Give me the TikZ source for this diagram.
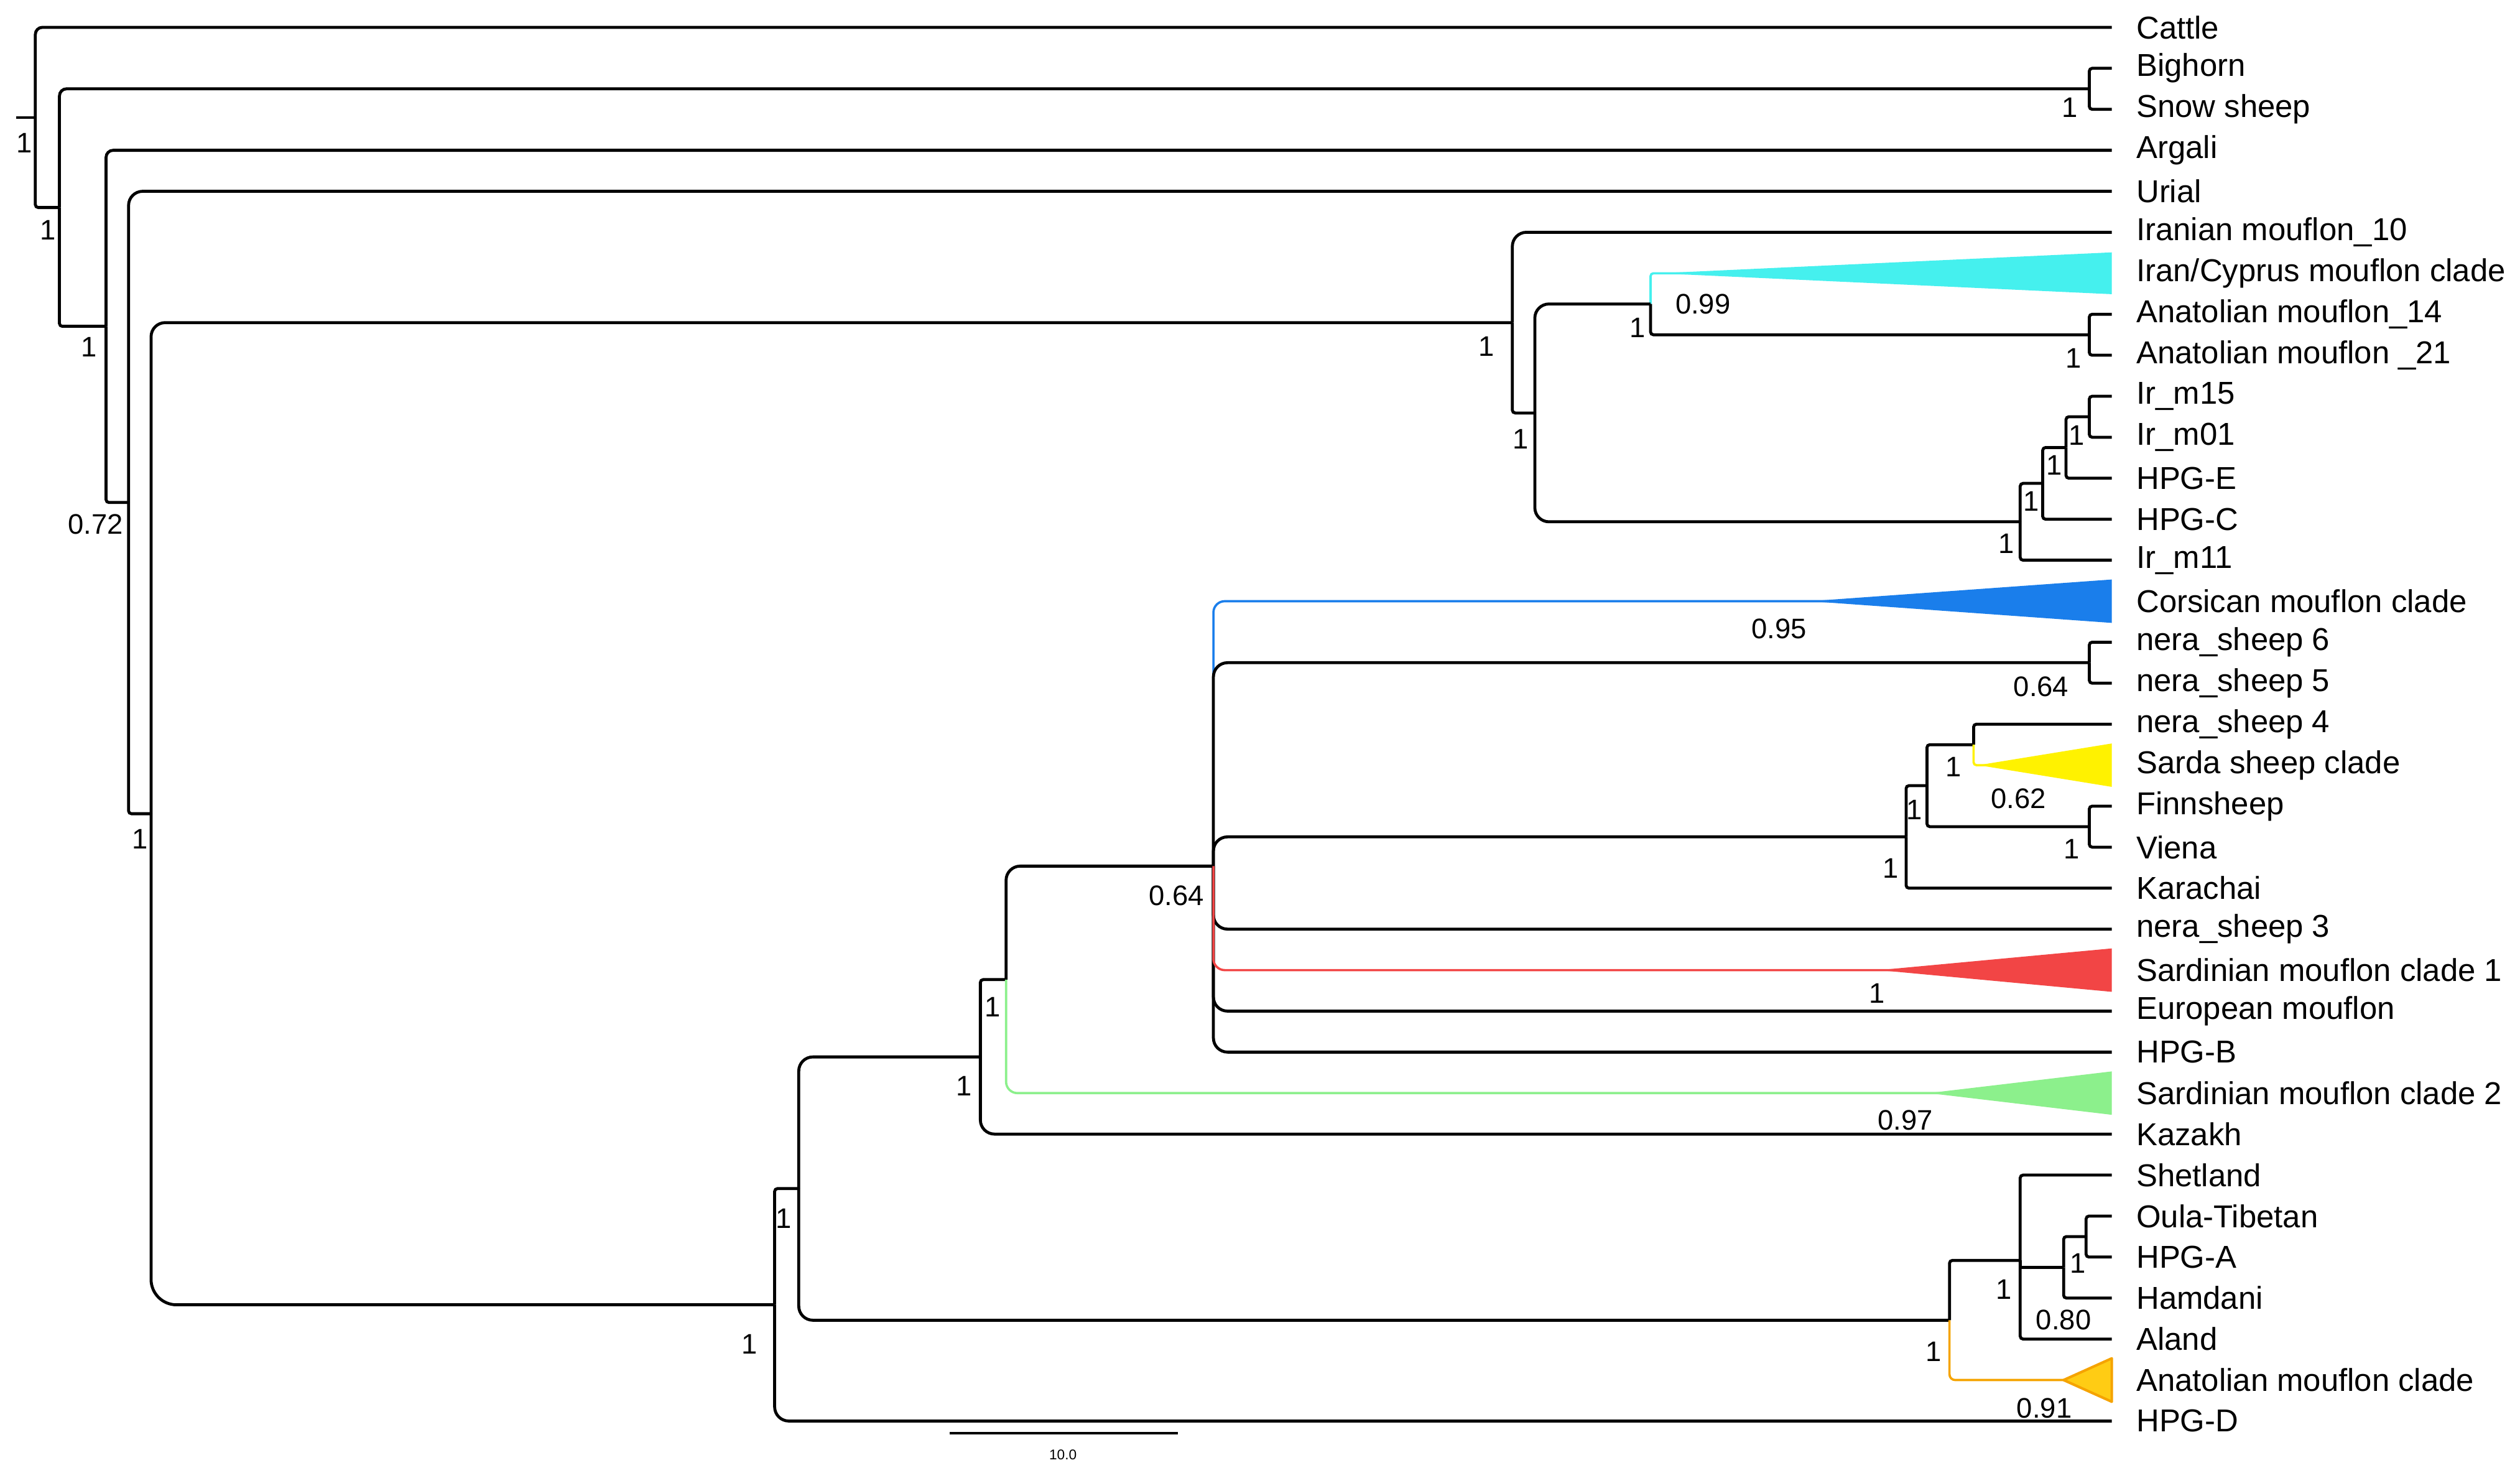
\documentclass[tikz,border=0pt]{standalone}
\usepackage{fontspec}
\setmainfont{Liberation Sans}
\usetikzlibrary{calc}
\definecolor{cyanc}{HTML}{45F0EE}
\definecolor{bluec}{HTML}{1A7EEB}
\definecolor{yellowc}{HTML}{FFF200}
\definecolor{redc}{HTML}{F24545}
\definecolor{greenc}{HTML}{8CF08C}
\definecolor{goldc}{HTML}{FFCC14}
\definecolor{orangec}{HTML}{F5A300}
\begin{document}
\begin{tikzpicture}[x=0.02cm, y=-0.02cm,
  br/.style={line width=1.05pt, black, rounded corners=5pt},
  brb/.style={line width=1.05pt, black, rounded corners=9pt},
  brm/.style={line width=1.05pt, black, rounded corners=2.5pt},
  brs/.style={line width=1.05pt, black, rounded corners=1pt},
  brsharp/.style={line width=1.05pt, black},
  colbr/.style={line width=0.8pt, rounded corners=4pt},
  lab/.style={anchor=west, inner xsep=0.3cm, inner ysep=0pt, font=\fontsize{11.2}{13}\selectfont},
  supval/.style={font=\fontsize{10}{12}\selectfont, inner sep=0pt},
]
\useasboundingbox (0,0) rectangle (1568,916);
% internal nodes
\coordinate (stub) at (10,73.1);
\coordinate (R0) at (22,73.1);
\coordinate (N1) at (37,129.1);
\coordinate (N2) at (66,203);
\coordinate (N3) at (80,312.6);
\coordinate (N4) at (94,506.2);
\coordinate (BS) at (1300,55.25);
\coordinate (G1) at (941,200.7);
\coordinate (G2) at (955,256.9);
\coordinate (G3) at (1027,189.1);
\coordinate (AN) at (1300,208.25);
\coordinate (G4) at (1257,324.6);
\coordinate (G5) at (1271,300.7);
\coordinate (G6) at (1285.5,278.4);
\coordinate (G7) at (1300,259.25);
\coordinate (N5) at (482,811.7);
\coordinate (N6) at (497,739.4);
\coordinate (N7) at (610,657.5);
\coordinate (N9) at (626,609.4);
\coordinate (P) at (755,538.8);
\coordinate (NS) at (1300,412.25);
\coordinate (S1) at (1186,520.6);
\coordinate (S2) at (1199,488.75);
\coordinate (S3) at (1228,463.25);
\coordinate (FV) at (1300,514.25);
\coordinate (N8) at (1213,821.3);
\coordinate (SH) at (1257,784.1);
\coordinate (Q) at (1284,788.4);
\coordinate (Q2) at (1298,769.25);
% clade apexes and ends of the coloured stems (inside the triangles)
\coordinate (icA) at (1032,170);   \coordinate (icE) at (1050,170);
\coordinate (coA) at (1126,374);   \coordinate (coE) at (1150,374);
\coordinate (saA) at (1231,476);   \coordinate (saE) at (1245,476);
\coordinate (m1A) at (1169,603.5); \coordinate (m1E) at (1190,603.5);
\coordinate (m2A) at (1200,680);   \coordinate (m2E) at (1220,680);
\coordinate (anA) at (1284,858.5); \coordinate (anE) at (1292,858.5);
% leaves
\node[lab] (cattle) at (1314,17) {Cattle};
\node[lab] (bighorn) at (1314,42.5) {Bighorn};
\node[lab] (snow) at (1314,68) {Snow sheep};
\node[lab] (argali) at (1314,93.5) {Argali};
\node[lab] (urial) at (1314,119) {Urial};
\node[lab] (iran10) at (1314,144.5) {Iranian mouflon\_10};
\node[lab] (ic) at (1314,170) {Iran/Cyprus mouflon clade};
\node[lab] (anat14) at (1314,195.5) {Anatolian mouflon\_14};
\node[lab] (anat21) at (1314,221) {Anatolian mouflon \_21};
\node[lab] (irm15) at (1314,246.5) {Ir\_m15};
\node[lab] (irm01) at (1314,272) {Ir\_m01};
\node[lab] (hpge) at (1314,297.5) {HPG-E};
\node[lab] (hpgc) at (1314,323) {HPG-C};
\node[lab] (irm11) at (1314,348.5) {Ir\_m11};
\node[lab] (cors) at (1314,374) {Corsican mouflon clade};
\node[lab] (nera6) at (1314,399.5) {nera\_sheep 6};
\node[lab] (nera5) at (1314,425) {nera\_sheep 5};
\node[lab] (nera4) at (1314,450.5) {nera\_sheep 4};
\node[lab] (sarda) at (1314,476) {Sarda sheep clade};
\node[lab] (finn) at (1314,501.5) {Finnsheep};
\node[lab] (viena) at (1314,527) {Viena};
\node[lab] (karachai) at (1314,552.5) {Karachai};
\node[lab] (nera3) at (1314,578) {nera\_sheep 3};
\node[lab] (sm1) at (1314,603.5) {Sardinian mouflon clade 1};
\node[lab] (euro) at (1314,629) {European mouflon};
\node[lab] (hpgb) at (1314,654.5) {HPG-B};
\node[lab] (sm2) at (1314,680) {Sardinian mouflon clade 2};
\node[lab] (kazakh) at (1314,705.5) {Kazakh};
\node[lab] (shetland) at (1314,731) {Shetland};
\node[lab] (oula) at (1314,756.5) {Oula-Tibetan};
\node[lab] (hpga) at (1314,782) {HPG-A};
\node[lab] (hamdani) at (1314,807.5) {Hamdani};
\node[lab] (aland) at (1314,833) {Aland};
\node[lab] (anc) at (1314,858.5) {Anatolian mouflon clade};
\node[lab] (hpgd) at (1314,884) {HPG-D};
% coloured branches drawn beneath
\draw[colbr, cyanc, rounded corners=1pt] (G3) |- (icE);
\draw[colbr, bluec] (P) |- (coE);
% black branches
\draw[brsharp] (stub) -- (R0);
\draw[brm] (R0) |- (cattle.west);
\draw[brs] (R0) |- (N1);
\draw[brm] (N1) |- (BS);
\draw[brs] (N1) |- (N2);
\draw[brs] (BS) |- (bighorn.west);
\draw[brs] (BS) |- (snow.west);
\draw[brm] (N2) |- (argali.west);
\draw[brs] (N2) |- (N3);
\draw[br] (N3) |- (urial.west);
\draw[brs] (N3) |- (N4);
\draw[br] (N4) |- (G1);
\draw[brb] (N4) |- (N5);
\draw[br] (G1) |- (iran10.west);
\draw[brs] (G1) |- (G2);
\draw[br] (G2) |- (G3);
\draw[br] (G2) |- (G4);
\draw[brs] (G3) |- (AN);
\draw[brs] (AN) |- (anat14.west);
\draw[brs] (AN) |- (anat21.west);
\draw[brs] (G4) |- (G5);
\draw[brs] (G4) |- (irm11.west);
\draw[brs] (G5) |- (G6);
\draw[brs] (G5) |- (hpgc.west);
\draw[brs] (G6) |- (G7);
\draw[brs] (G6) |- (hpge.west);
\draw[brs] (G7) |- (irm15.west);
\draw[brs] (G7) |- (irm01.west);
\draw[brs] (N5) |- (N6);
\draw[br] (N5) |- (hpgd.west);
\draw[br] (N6) |- (N7);
\draw[br] (N6) |- (N8);
\draw[brs] (N7) |- (N9);
\draw[br] (N7) |- (kazakh.west);
\draw[br] (N9) |- (P);
\draw[br] (P) |- (NS);
\draw[br] (P) |- (S1);
\draw[br] (P) |- (nera3.west);
\draw[br] (P) |- (euro.west);
\draw[br] (P) |- (hpgb.west);
\draw[brs] (NS) |- (nera6.west);
\draw[brs] (NS) |- (nera5.west);
\draw[brs] (S1) |- (S2);
\draw[brs] (S1) |- (karachai.west);
\draw[brs] (S2) |- (S3);
\draw[brs] (S2) |- (FV);
\draw[brs] (S3) |- (nera4.west);
\draw[brs] (FV) |- (finn.west);
\draw[brs] (FV) |- (viena.west);
\draw[brs] (N8) |- (SH);
\draw[brs] (SH) |- (shetland.west);
\draw[brsharp] (SH) |- (Q);
\draw[brs] (SH) |- (aland.west);
\draw[brs] (Q) |- (Q2);
\draw[brs] (Q) |- (hamdani.west);
\draw[brs] (Q2) |- (oula.west);
\draw[brs] (Q2) |- (hpga.west);
% coloured branches on top
\draw[colbr, redc] (P) |- (m1E);
\draw[colbr, greenc] (N9) |- (m2E);
\draw[colbr, yellowc, rounded corners=1pt] (S3) |- (saE);
\draw[colbr, orangec, rounded corners=2pt] (N8) |- (anE);
% collapsed clades
\fill[cyanc] (icA) -- ($(ic.west)+(0,-13)$) -- ($(ic.west)+(0,13)$) -- cycle;
\fill[bluec] (coA) -- ($(cors.west)+(0,-13.5)$) -- ($(cors.west)+(0,13.5)$) -- cycle;
\fill[yellowc] (saA) -- ($(sarda.west)+(0,-13.5)$) -- ($(sarda.west)+(0,13.5)$) -- cycle;
\fill[redc] (m1A) -- ($(sm1.west)+(0,-13.5)$) -- ($(sm1.west)+(0,13.5)$) -- cycle;
\fill[greenc] (m2A) -- ($(sm2.west)+(0,-13.5)$) -- ($(sm2.west)+(0,13.5)$) -- cycle;
\filldraw[fill=goldc, draw=orangec, line width=0.9pt, line join=round] (anA) -- ($(anc.west)+(0,-13.5)$) -- ($(anc.west)+(0,13.5)$) -- cycle;
% support values
\node[supval] (v1) at (15,89) {1};
\node[supval] (v2) at (29.7,143) {1};
\node[supval] (v3) at (55.5,216) {1};
\node[supval] (v4) at (59.5,326) {0.72};
\node[supval] (v5) at (87,522) {1};
\node[supval] (v6) at (1288,67) {1};
\node[supval] (v7) at (925,215.6) {1};
\node[supval] (v8) at (946,273) {1};
\node[supval] (v9) at (1019,204) {1};
\node[supval] (v10) at (1059.6,189) {0.99};
\node[supval] (v11) at (1290,222.8) {1};
\node[supval] (v12) at (1292,271) {1};
\node[supval] (v13) at (1278,289.4) {1};
\node[supval] (v14) at (1264,311.8) {1};
\node[supval] (v15) at (1248.5,338) {1};
\node[supval] (v16) at (1107,391) {0.95};
\node[supval] (v17) at (1270,427) {0.64};
\node[supval] (v18) at (1215.5,477) {1};
\node[supval] (v19) at (1256,497) {0.62};
\node[supval] (v20) at (1191,503.8) {1};
\node[supval] (v21) at (1289,528) {1};
\node[supval] (v22) at (1176.5,540) {1};
\node[supval] (v23) at (732,557) {0.64};
\node[supval] (v24) at (1168,617.8) {1};
\node[supval] (v25) at (617.7,626.5) {1};
\node[supval] (v26) at (600,675.4) {1};
\node[supval] (v27) at (1185.6,696.7) {0.97};
\node[supval] (v28) at (487.6,758) {1};
\node[supval] (v29) at (466.5,836) {1};
\node[supval] (v30) at (1247,802) {1};
\node[supval] (v31) at (1293,785.8) {1};
\node[supval] (v32) at (1284,821) {0.80};
\node[supval] (v33) at (1203,841) {1};
\node[supval] (v34) at (1272,876) {0.91};
% scale bar
\coordinate (sb1) at (591,891.6);
\coordinate (sb2) at (733,891.6);
\draw[line width=0.9pt] (sb1) -- (sb2);
\node[font=\fontsize{5}{6}\selectfont, inner sep=0pt] (sblab) at (661.4,905) {10.0};
\end{tikzpicture}
\end{document}
